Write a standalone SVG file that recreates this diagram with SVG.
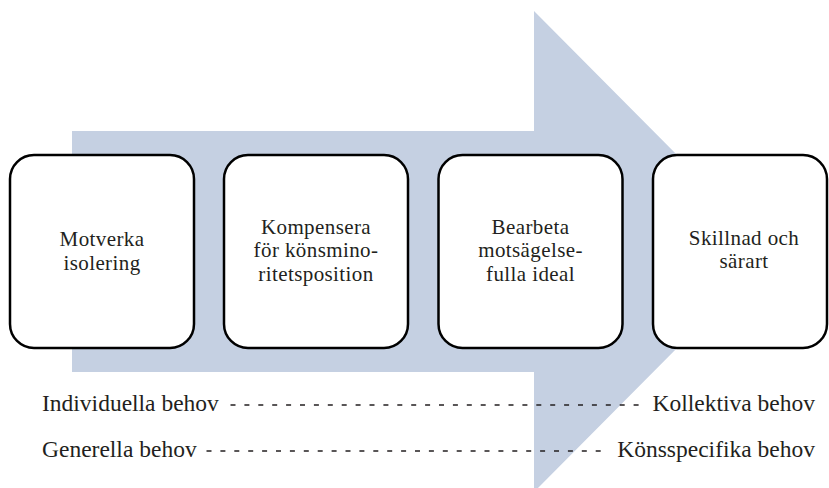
<svg xmlns="http://www.w3.org/2000/svg" width="829" height="488" viewBox="0 0 829 488">
<style>
.box{fill:#fff;stroke:#000;stroke-width:2.5}
.t{font-family:"Liberation Serif","Times New Roman",serif;font-size:21px;letter-spacing:0.4px;fill:#231f20;text-anchor:middle}
.l{font-family:"Liberation Serif","Times New Roman",serif;font-size:23.5px;fill:#231f20}
.dash{stroke:#231f20;stroke-width:1.4;stroke-dasharray:5 8.9}
</style>
<rect width="829" height="488" fill="#fff"/>
<g id="arrow">
<polygon points="72,131 534,131 534,11 773,251.5 534,492 534,372 72,372" fill="#c5d0e2"/>
</g>
<g id="node1">
<rect class="box" x="10" y="155" width="184" height="193" rx="24"/>
<text class="t" x="102" y="246">Motverka</text>
<text class="t" x="102" y="269.5">isolering</text>
</g>
<g id="node2">
<rect class="box" x="224" y="155" width="184" height="193" rx="24"/>
<text class="t" x="316" y="233.5">Kompensera</text>
<text class="t" x="316" y="257">för könsmino-</text>
<text class="t" x="316" y="280.5">ritetsposition</text>
</g>
<g id="node3">
<rect class="box" x="438.5" y="155" width="184" height="193" rx="24"/>
<text class="t" x="530.5" y="233.5">Bearbeta</text>
<text class="t" x="530.5" y="257">motsägelse-</text>
<text class="t" x="530.5" y="280.5">fulla ideal</text>
</g>
<g id="node4">
<rect class="box" x="653" y="155" width="174" height="193" rx="24"/>
<text class="t" x="744" y="244.5">Skillnad och</text>
<text class="t" x="744" y="268">särart</text>
</g>
<g id="connectors">
<line class="dash" x1="230.5" y1="405" x2="639" y2="405"/>
<line class="dash" x1="206.5" y1="451" x2="602" y2="451"/>
</g>
<g id="labels">
<text class="l" x="42" y="411">Individuella behov</text>
<text class="l" x="815" y="411" text-anchor="end">Kollektiva behov</text>
<text class="l" x="42" y="457">Generella behov</text>
<text class="l" x="815" y="457" text-anchor="end">Könsspecifika behov</text>
</g>
</svg>
